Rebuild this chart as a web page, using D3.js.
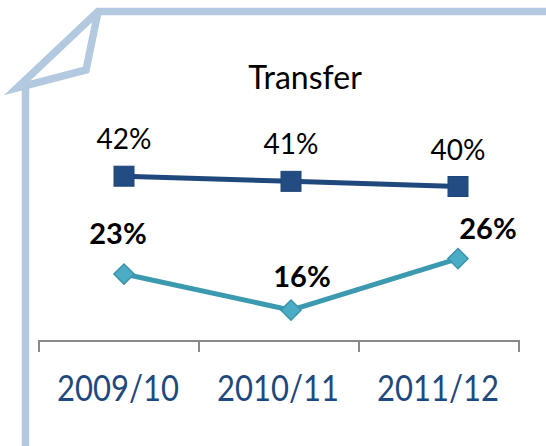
<!DOCTYPE html>
<html><head><meta charset="utf-8">
<script src="https://cdn.jsdelivr.net/npm/d3@7"></script>
<style>html,body{margin:0;padding:0;background:#fff;}svg{display:block;}</style>
</head><body>
<script>
const categories = ["2009/10", "2010/11", "2011/12"];
const seriesDark = [42, 41, 40];
const seriesTeal = [23, 16, 26];
const darkLabels = ["42%", "41%", "40%"];
const tealLabels = ["23%", "16%", "26%"];
const titleText = "Transfer";

const W = 546, H = 446;
const svg = d3.select("body").append("svg").attr("width", W).attr("height", H);
const frameColor = "#b3c9df";

// folded-corner frame
svg.append("path")
  .attr("d", "M546,11.5 L98,11.5 L17,88 L86,70 L98,12 M25.5,84 L25.5,446")
  .attr("fill", "none").attr("stroke", frameColor).attr("stroke-width", 7.5)
  .attr("stroke-linejoin", "miter").attr("stroke-miterlimit", 10);

// scales
const xAxisScale = d3.scaleBand().domain(categories).range([39, 519]).paddingInner(0).paddingOuter(0);
const xPoint = d3.scalePoint().domain(categories).range([124, 458]);
const y = d3.scaleLinear().domain([10, 50]).range([341, 135]);

// axis
const axisG = svg.append("g").attr("transform", "translate(0,341)")
  .call(d3.axisBottom(xAxisScale).tickSize(0).tickPadding(0).tickFormat(""));
axisG.select(".domain").remove();
axisG.selectAll(".tick").remove();
axisG.append("line").attr("x1", 39).attr("x2", 519).attr("stroke", "#8a8a8a").attr("stroke-width", 2);
const tickPos = [xAxisScale.range()[0]].concat(categories.map(c => xAxisScale(c) + xAxisScale.bandwidth()));
axisG.selectAll("line.tk").data(tickPos).join("line").attr("class", "tk")
  .attr("x1", d => d).attr("x2", d => d).attr("y1", -1).attr("y2", 11)
  .attr("stroke", "#8a8a8a").attr("stroke-width", 2);
axisG.selectAll("text.lbl").data(categories).join("text").attr("class", "lbl")
  .attr("transform", d => `translate(${xAxisScale(d) + xAxisScale.bandwidth() / 2 - 1},60) scale(1,1.2)`)
  .attr("text-anchor", "middle")
  .attr("font-family", "Lato, sans-serif").attr("font-size", 31)
  .attr("fill", "#1f497d")
  .text(d => d);

// title
svg.append("text").attr("transform", "translate(305,89) scale(1,1.05)").attr("text-anchor", "middle")
  .attr("font-family", "Lato, sans-serif").attr("font-size", 32).attr("fill", "#000")
  .text(titleText);

const line = d3.line().x((d, i) => xPoint(categories[i])).y(d => y(d));

// teal series
svg.append("path").datum(seriesTeal).attr("d", line)
  .attr("fill", "none").attr("stroke", "#3b9ab0").attr("stroke-width", 5);
svg.selectAll("path.dia").data(seriesTeal).join("path").attr("class", "dia")
  .attr("d", d3.symbol(d3.symbolDiamond2, 260)())
  .attr("transform", (d, i) => `translate(${xPoint(categories[i])},${y(d)})`)
  .attr("fill", "#4bacc6").attr("stroke", "#3d93aa").attr("stroke-width", 1.5);

// dark series
svg.append("path").datum(seriesDark).attr("d", line)
  .attr("fill", "none").attr("stroke", "#1f497d").attr("stroke-width", 5);
svg.selectAll("rect.sq").data(seriesDark).join("rect").attr("class", "sq")
  .attr("x", (d, i) => xPoint(categories[i]) - 10).attr("y", d => y(d) - 10)
  .attr("width", 20).attr("height", 20)
  .attr("fill", "#234d82").attr("stroke", "#1f4576").attr("stroke-width", 1);

// labels
svg.selectAll("text.dl").data(seriesDark).join("text").attr("class", "dl")
  .attr("x", (d, i) => xPoint(categories[i]))
  .attr("y", d => y(d) - 27)
  .attr("text-anchor", "middle")
  .attr("font-family", "Lato, sans-serif").attr("font-size", 28).attr("fill", "#000")
  .text((d, i) => darkLabels[i]);

const tealOff = [[-6, -30], [11, -23], [30, -20]];
svg.selectAll("text.tl").data(seriesTeal).join("text").attr("class", "tl")
  .attr("x", (d, i) => xPoint(categories[i]) + tealOff[i][0])
  .attr("y", (d, i) => y(d) + tealOff[i][1])
  .attr("text-anchor", "middle")
  .attr("font-family", "Lato, sans-serif").attr("font-weight", "bold").attr("font-size", 29).attr("fill", "#000")
  .text((d, i) => tealLabels[i]);
</script>
</body></html>
